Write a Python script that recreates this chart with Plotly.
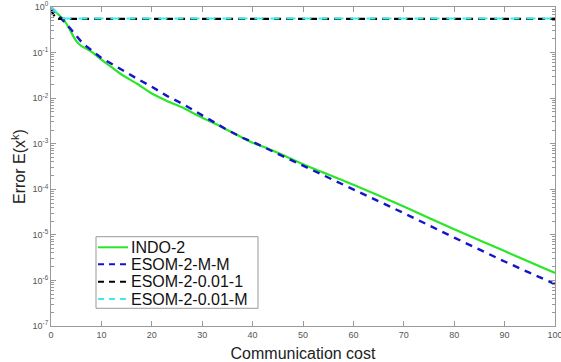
import plotly.graph_objects as go

# ---- data ----
x_indo = [0, 1, 2, 3, 4, 5, 6, 7, 8, 10, 12, 14, 17, 20, 23, 26, 29, 32, 35, 38, 40,
          42, 45, 50, 60, 70, 80, 90, 100]
y_indo = [0.95, 0.76, 0.60, 0.44, 0.28, 0.18, 0.14, 0.122, 0.105, 0.070, 0.048, 0.033,
          0.0209, 0.0126, 0.0087, 0.0063, 0.0042, 0.00295, 0.0020, 0.00135, 0.00105,
          0.00087, 0.00063, 0.000355, 0.000126, 4.2e-05, 1.32e-05, 4.4e-06, 1.45e-06]

x_esom_mm = [0, 1, 2, 3, 4, 5, 6, 7, 8, 10, 12, 14, 17, 20, 23, 26, 29, 32, 35, 38, 40,
             45, 50, 60, 70, 80, 90, 100]
y_esom_mm = [1.0, 0.76, 0.56, 0.43, 0.32, 0.235, 0.174, 0.138, 0.112, 0.076, 0.057,
             0.042, 0.0270, 0.0178, 0.0112, 0.0076, 0.0048, 0.0031, 0.0020, 0.00135,
             0.0011, 0.0006, 0.00033, 0.0001, 3.0e-05, 8.7e-06, 2.6e-06, 8.3e-07]

x_esom_001_1 = [0, 1, 100]
y_esom_001_1 = [0.85, 0.55, 0.55]

x_esom_001_m = [0, 2.4, 100]
y_esom_001_m = [1.0, 0.56, 0.56]

names = ["INDO-2", "ESOM-2-M-M", "ESOM-2-0.01-1", "ESOM-2-0.01-M"]

x_ticks = [0, 10, 20, 30, 40, 50, 60, 70, 80, 90, 100]
y_exps = [0, -1, -2, -3, -4, -5, -6, -7]

# ---- styles ----
FONT = "Liberation Sans, Arial, Helvetica"
styles = [
    dict(color="rgb(40,230,40)", width=2.2, dash="solid"),
    dict(color="rgb(20,20,200)", width=2.4, dash="7px,6px"),
    dict(color="black", width=2.2, dash="7px,5px"),
    dict(color="rgb(60,235,235)", width=2.2, dash="9px,7px"),
]

# ---- figure ----
fig = go.Figure()
fig.add_trace(go.Scatter(x=x_indo, y=y_indo, mode="lines", name=names[0],
                         line=dict(shape="spline", smoothing=0.6, **styles[0])))
fig.add_trace(go.Scatter(x=x_esom_mm, y=y_esom_mm, mode="lines", name=names[1], line=styles[1]))
fig.add_trace(go.Scatter(x=x_esom_001_1, y=y_esom_001_1, mode="lines", name=names[2], line=styles[2]))
fig.add_trace(go.Scatter(x=x_esom_001_m, y=y_esom_001_m, mode="lines", name=names[3], line=styles[3]))

minor_vals = [m * 10.0 ** e for e in range(-7, 0) for m in range(2, 10)]

axis_common = dict(showline=True, linecolor="#999999", linewidth=1, mirror="allticks",
                   ticks="inside", tickcolor="#999999", ticklen=5, showgrid=False,
                   zeroline=False, ticklabeloverflow="allow", automargin=False,
                   tickfont=dict(family=FONT, size=9, color="#555555"))

fig.update_xaxes(range=[0, 100], tickvals=x_ticks, ticktext=[str(v) for v in x_ticks],
                 title=dict(text="Communication cost", standoff=12,
                            font=dict(family=FONT, size=16, color="#222222")),
                 **axis_common)
fig.update_yaxes(type="log", range=[-7, 0],
                 tickvals=[10.0 ** e for e in y_exps],
                 ticktext=["10<sup>%d</sup>" % e for e in y_exps],
                 minor=dict(tickmode="array", tickvals=minor_vals, ticks="inside",
                            ticklen=3, tickcolor="#999999", showgrid=False),
                 title=dict(text="Error E(x<sup>k</sup>)", standoff=2,
                            font=dict(family=FONT, size=16, color="#222222")),
                 **axis_common)

# ---- custom legend (MATLAB-like compact box) ----
box_x0, box_x1, box_y0, box_y1 = 0.0893, 0.4107, 0.0555, 0.2799
row_y = [0.2467, 0.1934, 0.1389, 0.0846]
line_x0, line_x1, text_x = 0.0933, 0.1528, 0.1555
fig.add_shape(type="rect", xref="paper", yref="paper", x0=box_x0, x1=box_x1, y0=box_y0, y1=box_y1,
              line=dict(color="#999999", width=1), fillcolor="white", layer="above")
for nm, st, ry in zip(names, styles, row_y):
    fig.add_shape(type="line", xref="paper", yref="paper", x0=line_x0, x1=line_x1, y0=ry, y1=ry,
                  line=dict(color=st["color"], width=2, dash="solid" if st["dash"] == "solid" else "6px,5px"),
                  layer="above")
    fig.add_annotation(text=nm, xref="paper", yref="paper", x=text_x, y=ry, xanchor="left",
                       yanchor="middle", showarrow=False,
                       font=dict(family=FONT, size=16, color="#111111"))

fig.update_layout(width=561, height=362, margin=dict(l=51, r=6, t=7, b=36),
                  paper_bgcolor="white", plot_bgcolor="white", showlegend=False)

fig.write_html("out.html")
